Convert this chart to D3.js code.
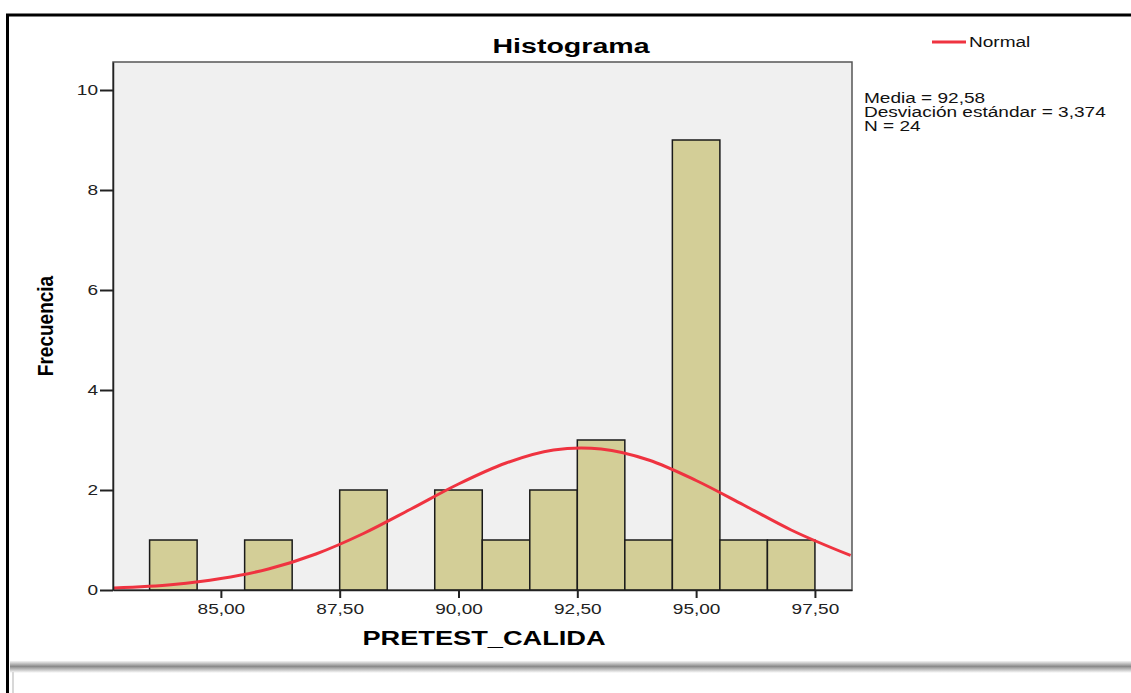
<!DOCTYPE html>
<html>
<head>
<meta charset="utf-8">
<script src="https://cdn.jsdelivr.net/npm/d3@7"></script>
<style>
  body { margin: 0; background: #fff; }
  svg { display: block; font-family: "Liberation Sans", Arial, sans-serif; }
</style>
</head>
<body>
<div id="chart"></div>
<script>
// histogram bins (centre of each 1-unit bin) and counts
var binCenters = [84, 86, 88, 90, 91, 92, 93, 94, 95, 96, 97];
var binCounts = [1, 1, 2, 2, 1, 2, 3, 1, 9, 1, 1];
var binWidth = 1;

// normal curve
var curveX = [82.75, 84, 85, 86, 87, 88, 89, 90, 91, 92, 92.58, 93, 94, 95, 96, 97, 98.25];
var curveY = [0.04, 0.11, 0.23, 0.42, 0.72, 1.13, 1.62, 2.12, 2.54, 2.80, 2.84, 2.82, 2.60, 2.19, 1.70, 1.20, 0.69];

var xTicks = [85, 87.5, 90, 92.5, 95, 97.5];
var yTicks = [0, 2, 4, 6, 8, 10];
var statsLines = ["Media = 92,58", "Desviación estándar = 3,374", "N = 24"];

var W = 1131, H = 693;
var plot = { left: 113, top: 62, right: 852, bottom: 590 };
var stretch = 1.36; // the screenshot's text is horizontally stretched

var svg = d3.select("#chart").append("svg")
    .attr("width", W)
    .attr("height", H);

// stretched text helper
function wideText(px, py, str, size) {
    return svg.append("text")
        .attr("transform", "translate(" + px + "," + py + ") scale(" + stretch + ",1)")
        .attr("font-size", size)
        .text(str);
}

// outer frame like the screenshot
var defs = svg.append("defs");
var grad = defs.append("linearGradient")
    .attr("id", "shadow")
    .attr("x1", 0).attr("y1", 0).attr("x2", 0).attr("y2", 1);
grad.append("stop").attr("offset", "0%").attr("stop-color", "#f4f4f4");
grad.append("stop").attr("offset", "45%").attr("stop-color", "#8a8a8a");
grad.append("stop").attr("offset", "100%").attr("stop-color", "#ffffff");

svg.append("rect")
    .attr("x", 10).attr("y", 661).attr("width", W - 10).attr("height", 12)
    .attr("fill", "url(#shadow)");
svg.append("line")
    .attr("x1", 13).attr("x2", 13).attr("y1", 672).attr("y2", H)
    .attr("stroke", "#d8d8d8").attr("stroke-width", 2);
svg.append("line")
    .attr("x1", 6).attr("x2", W).attr("y1", 15).attr("y2", 15)
    .attr("stroke", "#000").attr("stroke-width", 3);
svg.append("line")
    .attr("x1", 7.5).attr("x2", 7.5).attr("y1", 14).attr("y2", H)
    .attr("stroke", "#000").attr("stroke-width", 3);

var x = d3.scaleLinear()
    .domain([82.73, 98.28])
    .range([plot.left, plot.right]);

var y = d3.scaleLinear()
    .domain([0, 10.56])
    .range([plot.bottom, plot.top]);

// plot background
svg.append("rect")
    .attr("x", plot.left).attr("y", plot.top)
    .attr("width", plot.right - plot.left)
    .attr("height", plot.bottom - plot.top)
    .attr("fill", "#f0f0f0")
    .attr("stroke", "#555")
    .attr("stroke-width", 1.5);

// bars
svg.selectAll(".bar")
    .data(binCenters)
    .enter()
    .append("rect")
    .attr("class", "bar")
    .attr("x", function (d) { return x(d - binWidth / 2); })
    .attr("width", function (d) { return x(d + binWidth / 2) - x(d - binWidth / 2); })
    .attr("y", function (d, i) { return y(binCounts[i]); })
    .attr("height", function (d, i) { return y(0) - y(binCounts[i]); })
    .attr("fill", "#d3ce97")
    .attr("stroke", "#1a1a1a")
    .attr("stroke-width", 1.5);

// normal curve
var line = d3.line()
    .x(function (d) { return x(d[0]); })
    .y(function (d) { return y(d[1]); })
    .curve(d3.curveMonotoneX);

svg.append("path")
    .datum(curveX.map(function (v, i) { return [v, curveY[i]]; }))
    .attr("d", line)
    .attr("fill", "none")
    .attr("stroke", "#ef3340")
    .attr("stroke-width", 3);

// axes
var xAxis = svg.append("g")
    .attr("transform", "translate(0," + plot.bottom + ")")
    .call(d3.axisBottom(x)
        .tickValues(xTicks)
        .tickSizeInner(8)
        .tickSizeOuter(0)
        .tickPadding(6)
        .tickFormat(function (d) { return d.toFixed(2).replace(".", ","); }));

var yAxis = svg.append("g")
    .attr("transform", "translate(" + plot.left + ",0)")
    .call(d3.axisLeft(y)
        .tickValues(yTicks)
        .tickSizeInner(13)
        .tickSizeOuter(0)
        .tickPadding(2)
        .tickFormat(d3.format("d")));

[xAxis, yAxis].forEach(function (g) {
    g.select(".domain").attr("stroke", "#222").attr("stroke-width", 1.5);
    g.selectAll(".tick line").attr("stroke", "#222").attr("stroke-width", 2);
    g.selectAll(".tick text")
        .attr("font-family", "'Liberation Sans', Arial, sans-serif")
        .attr("font-size", 14)
        .attr("fill", "#222")
        .attr("transform", "scale(" + stretch + ",1)");
});
// keep y labels right-aligned at the tick after scaling
yAxis.selectAll(".tick text").attr("x", -15 / stretch);

// titles
wideText(571, 53, "Histograma", 21)
    .attr("text-anchor", "middle")
    .attr("font-weight", "bold");

wideText(484, 645, "PRETEST_CALIDA", 20)
    .attr("text-anchor", "middle")
    .attr("font-weight", "bold");

svg.append("text")
    .attr("transform", "translate(53,326) rotate(-90) scale(1,1.15)")
    .attr("text-anchor", "middle")
    .attr("font-family", "'Liberation Sans Narrow', 'Liberation Sans', Arial, sans-serif")
    .attr("font-size", 19)
    .attr("font-weight", "bold")
    .text("Frecuencia");

// legend
svg.append("line")
    .attr("x1", 932).attr("x2", 966)
    .attr("y1", 42).attr("y2", 42)
    .attr("stroke", "#ef3340")
    .attr("stroke-width", 3);
wideText(969, 47, "Normal", 14).attr("fill", "#111");

// stats box text
statsLines.forEach(function (s, i) {
    wideText(864, 103 + i * 14, s, 14).attr("fill", "#111");
});
</script>
</body>
</html>
